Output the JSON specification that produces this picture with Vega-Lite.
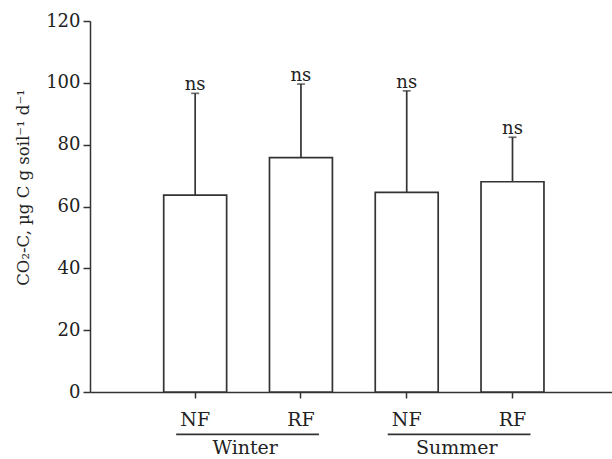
{
  "$schema": "https://vega.github.io/schema/vega-lite/v6.json",
  "width": 522,
  "height": 371,
  "autosize": {"type": "none"},
  "padding": {"left": 90, "top": 21, "right": 0, "bottom": 67},
  "background": "white",
  "config": {
    "view": {"stroke": null},
    "font": "DejaVu Serif",
    "axis": {
      "domainColor": "#333",
      "tickColor": "#333",
      "labelColor": "#222",
      "titleColor": "#222",
      "domainWidth": 1.5,
      "tickWidth": 1.5,
      "grid": false,
      "labelFont": "DejaVu Serif",
      "titleFont": "DejaVu Serif"
    }
  },
  "datasets": {
    "bars": [
      {"season": "Winter", "treatment": "NF", "bar": "Winter NF", "mean": 63.7, "upper": 96.6, "sig": "ns"},
      {"season": "Winter", "treatment": "RF", "bar": "Winter RF", "mean": 75.8, "upper": 99.6, "sig": "ns"},
      {"season": "Summer", "treatment": "NF", "bar": "Summer NF", "mean": 64.6, "upper": 97.4, "sig": "ns"},
      {"season": "Summer", "treatment": "RF", "bar": "Summer RF", "mean": 68.0, "upper": 82.4, "sig": "ns"}
    ],
    "groups": [
      {"season": "Winter", "first": "Winter NF", "last": "Winter RF"},
      {"season": "Summer", "first": "Summer NF", "last": "Summer RF"}
    ]
  },
  "layer": [
    {
      "data": {"name": "bars"},
      "mark": {"type": "bar", "fill": "white", "stroke": "#333", "strokeWidth": 1.7},
      "encoding": {
        "x": {
          "field": "bar",
          "type": "nominal",
          "scale": {
            "domain": ["Winter NF", "Winter RF", "Summer NF", "Summer RF"],
            "paddingInner": 0.405,
            "paddingOuter": 0.67,
            "align": 0.52,
            "round": false
          },
          "axis": {
            "title": null,
            "labelExpr": "split(datum.value, ' ')[1]",
            "labelAngle": 0,
            "labelFontSize": 19,
            "tickSize": 6,
            "labelPadding": 12
          }
        },
        "y": {
          "field": "mean",
          "type": "quantitative",
          "scale": {"domain": [0, 120], "nice": false},
          "axis": {
            "title": "CO₂-C, µg C g soil⁻¹ d⁻¹",
            "values": [0, 20, 40, 60, 80, 100, 120],
            "tickSize": 7,
            "labelFontSize": 18,
            "labelPadding": 3,
            "titleFontSize": 16.5,
            "titleFontWeight": "normal",
            "titlePadding": 14,
            "titleY": 166
          }
        }
      }
    },
    {
      "data": {"name": "bars"},
      "mark": {"type": "rule", "stroke": "#333", "strokeWidth": 1.7},
      "encoding": {
        "x": {"field": "bar", "type": "nominal"},
        "y": {"field": "mean", "type": "quantitative"},
        "y2": {"field": "upper"}
      }
    },
    {
      "data": {"name": "bars"},
      "mark": {"type": "tick", "color": "#333", "size": 8, "thickness": 1.7},
      "encoding": {
        "x": {"field": "bar", "type": "nominal"},
        "y": {"field": "upper", "type": "quantitative"}
      }
    },
    {
      "data": {"name": "bars"},
      "mark": {"type": "text", "fontSize": 18, "color": "#222", "baseline": "alphabetic", "dy": -3},
      "encoding": {
        "x": {"field": "bar", "type": "nominal"},
        "y": {"field": "upper", "type": "quantitative"},
        "text": {"field": "sig"}
      }
    },
    {
      "data": {"name": "groups"},
      "mark": {"type": "rule", "stroke": "#333", "strokeWidth": 1.7, "xOffset": -19, "x2Offset": 18},
      "encoding": {
        "x": {"field": "first", "type": "nominal"},
        "x2": {"field": "last"},
        "y": {"datum": -13.7}
      }
    },
    {
      "data": {"name": "groups"},
      "mark": {"type": "text", "fontSize": 19, "color": "#222", "baseline": "alphabetic", "dx": 50},
      "encoding": {
        "x": {"field": "first", "type": "nominal"},
        "y": {"datum": -20.0},
        "text": {"field": "season"}
      }
    }
  ]
}
